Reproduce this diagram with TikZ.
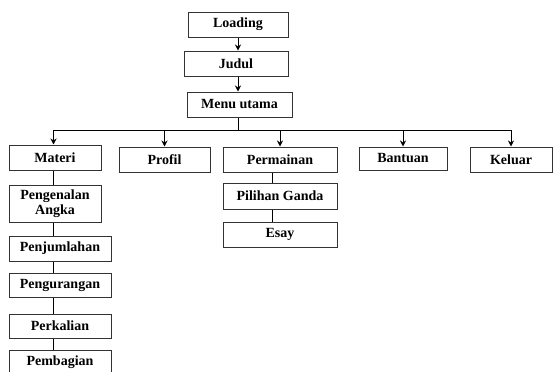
\documentclass[tikz,border=0pt]{standalone}
\usepackage{fontspec}
\setmainfont{Liberation Serif}
\usetikzlibrary{arrows.meta}
\begin{document}
\begin{tikzpicture}[x=1pt, y=-1pt,
        every node/.style={draw=black!80, line width=1pt, fill=white, font=\fontsize{14}{15}\selectfont\bfseries, inner sep=0pt, minimum height=25pt, align=center},
        link/.style={draw=black, line width=0.9pt},
        arr/.style={link, -{Stealth[length=6pt,width=6pt]}}]
        \useasboundingbox (0,0) rectangle (557,372);
        % alur utama
        \node[minimum width=100pt] (loading) at (238,24.5) {Loading};
        \node[minimum width=104pt] (judul) at (236,63.5) {Judul};
        \node[minimum width=105pt] (menu) at (239.5,104.5) {Menu utama};
        % menu
        \node[minimum width=92pt] (materi) at (55,157.5) {Materi};
        \node[minimum width=91pt] (profil) at (164.5,159.5) {Profil};
        \node[minimum width=114pt] (permainan) at (280,159.5) {Permainan};
        \node[minimum width=88pt, minimum height=23pt] (bantuan) at (403,158.5) {Bantuan};
        \node[minimum width=82pt] (keluar) at (511,159.5) {Keluar};
        % isi materi
        \node[minimum width=92pt, minimum height=37pt] (angka) at (55,203.5) {Pengenalan\\Angka};
        \node[minimum width=102pt] (tambah) at (60,248.5) {Penjumlahan};
        \node[minimum width=102pt, minimum height=24pt] (kurang) at (60,285) {Pengurangan};
        \node[minimum width=102pt, minimum height=24pt] (kali) at (60,326) {Perkalian};
        \node[minimum width=102pt] (bagi) at (60,362.5) {Pembagian};
        % isi permainan
        \node[minimum width=114pt, minimum height=26pt] (ganda) at (280,196) {Pilihan Ganda};
        \node[minimum width=114pt] (esay) at (280,234.5) {Esay};
        \coordinate (bus) at (238,130);
        \coordinate (col) at (53.5,0);
        \coordinate (pcol) at (272,0);
        \draw[arr] (loading.south -| 238,0) -- (judul.north -| 238,0);
        \draw[arr] (judul.south -| 238,0) -- (menu.north -| 238,0);
        \draw[link] (menu.south -| bus) -- (bus);
        \draw[link] (bus -| col) -- (bus -| keluar.north);
        \draw[arr] (bus -| col) -- (materi.north -| col);
        \foreach \m in {profil,permainan,bantuan,keluar}
            \draw[arr] (bus -| \m.north) -- (\m.north);
        \foreach \a/\b in {materi/angka,angka/tambah,tambah/kurang,kurang/kali,kali/bagi}
            \draw[link] (\a.south -| col) -- (\b.north -| col);
        \foreach \a/\b in {permainan/ganda,ganda/esay}
            \draw[link] (\a.south -| pcol) -- (\b.north -| pcol);
\end{tikzpicture}
\end{document}
